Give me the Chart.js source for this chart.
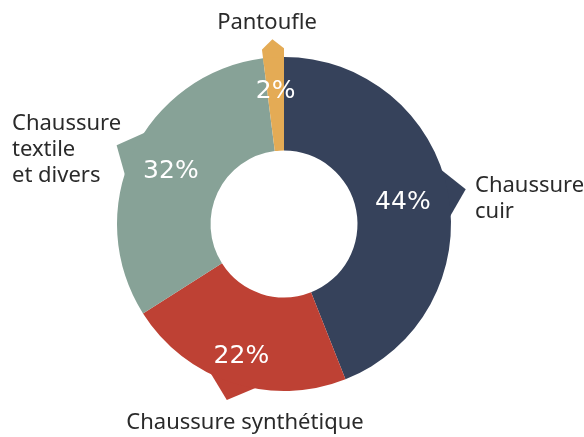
<!DOCTYPE html>
<html>
<head>
<meta charset="utf-8">
<script src="https://cdn.jsdelivr.net/npm/chart.js@4/dist/chart.umd.min.js"></script>
<style>
  html, body { margin: 0; padding: 0; background: #ffffff; }
  #wrap { width: 584px; height: 437px; position: relative; }
</style>
</head>
<body>
<div id="wrap"><canvas id="c" width="584" height="437"></canvas></div>
<script>
// ---- data ----
const categories = ["Chaussure cuir", "Chaussure synthétique", "Chaussure textile et divers", "Pantoufle"];
const labelLines = [["Chaussure", "cuir"], ["Chaussure synthétique"], ["Chaussure", "textile", "et divers"], ["Pantoufle"]];
const shares = [44, 22, 32, 2];
const colors = ["#36425b", "#be4134", "#87a297", "#e4ab55"];

// ---- styling (not data) ----
const pctRadius = [121, 138, 125, 134];
// category label placement relative to the chart centre
const labelPlace = [
  { dx: 191, dy: -38, align: "left" },
  { dx: -39, dy: 199, align: "center" },
  { dx: -272, dy: -100, align: "left" },
  { dx: -17, dy: -201, align: "center" }
];

const pointerPlugin = {
  id: "pointers",
  beforeDatasetsDraw(chart) {
    const ctx = chart.ctx;
    const meta = chart.getDatasetMeta(0);
    meta.data.forEach((arc, i) => {
      const p = arc.getProps(["x", "y", "startAngle", "endAngle", "outerRadius"], true);
      const mid = (p.startAngle + p.endAngle) / 2;
      const half = 10 * Math.PI / 180;
      const rTip = p.outerRadius + 18;
      const rBase = p.outerRadius - 4;
      ctx.save();
      ctx.beginPath();
      ctx.moveTo(p.x, p.y);
      ctx.arc(p.x, p.y, p.outerRadius + 40, p.startAngle, p.endAngle);
      ctx.closePath();
      ctx.clip();
      ctx.beginPath();
      ctx.moveTo(p.x + rBase * Math.cos(mid - half), p.y + rBase * Math.sin(mid - half));
      ctx.lineTo(p.x + rTip * Math.cos(mid), p.y + rTip * Math.sin(mid));
      ctx.lineTo(p.x + rBase * Math.cos(mid + half), p.y + rBase * Math.sin(mid + half));
      ctx.closePath();
      ctx.fillStyle = colors[i];
      ctx.fill();
      ctx.restore();
    });
  },
  afterDatasetsDraw(chart) {
    const ctx = chart.ctx;
    const meta = chart.getDatasetMeta(0);
    ctx.save();
    ctx.textBaseline = "middle";
    meta.data.forEach((arc, i) => {
      const p = arc.getProps(["x", "y", "startAngle", "endAngle"], true);
      const mid = (p.startAngle + p.endAngle) / 2;
      ctx.fillStyle = "#ffffff";
      ctx.textAlign = "center";
      ctx.font = "25px 'DejaVu Sans'";
      ctx.fillText(shares[i] + "%", p.x + pctRadius[i] * Math.cos(mid), p.y + pctRadius[i] * Math.sin(mid) + 1);

      const lp = labelPlace[i];
      ctx.fillStyle = "#2a2a2a";
      ctx.textAlign = lp.align;
      ctx.font = "22px 'Noto Sans'";
      labelLines[i].forEach((t, k) => {
        ctx.fillText(t, p.x + lp.dx, p.y + lp.dy + k * 26);
      });
    });
    ctx.restore();
  }
};

new Chart(document.getElementById("c"), {
  type: "doughnut",
  data: {
    labels: categories,
    datasets: [{
      data: shares,
      backgroundColor: colors,
      borderWidth: 0,
      hoverOffset: 0
    }]
  },
  options: {
    responsive: false,
    animation: false,
    cutout: "44%",
    rotation: 0,
    layout: { padding: { top: 57, bottom: 46, left: 117, right: 133 } },
    plugins: {
      legend: { display: false },
      tooltip: { enabled: false },
      title: { display: false }
    }
  },
  plugins: [pointerPlugin]
});
</script>
</body>
</html>
